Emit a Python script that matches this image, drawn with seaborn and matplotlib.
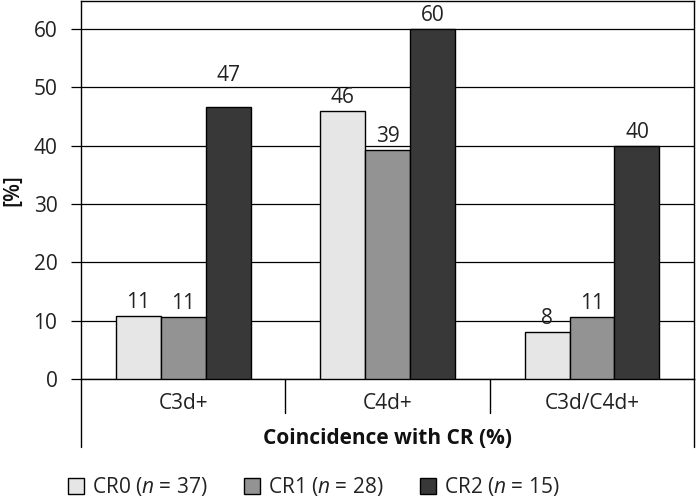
import matplotlib
matplotlib.use("Agg")
import matplotlib.pyplot as plt
import matplotlib.transforms as mtransforms
import seaborn as sns
import pandas as pd

categories = ["C3d+", "C4d+", "C3d/C4d+"]
groups = ["CR0 ($\\it{n}$ = 37)", "CR1 ($\\it{n}$ = 28)", "CR2 ($\\it{n}$ = 15)"]
cr0 = [10.8, 45.9, 8.1]
cr1 = [10.7, 39.3, 10.7]
cr2 = [46.7, 60.0, 40.0]
yticks = [0, 10, 20, 30, 40, 50, 60]

rows = []
for g, vals in zip(groups, [cr0, cr1, cr2]):
    for c, v in zip(categories, vals):
        rows.append({"category": c, "group": g, "value": v})
df = pd.DataFrame(rows)

sns.set_theme(style="white")
plt.rcParams["font.family"] = ["Open Sans", "DejaVu Sans"]
plt.rcParams["mathtext.fontset"] = "custom"
plt.rcParams["mathtext.rm"] = "Open Sans"
plt.rcParams["mathtext.it"] = "Open Sans:italic"

FS = 15
fig = plt.figure(figsize=(6.96, 5.04), dpi=100)
ax = fig.add_axes([0.1164, 0.248, 0.881, 0.750])

palette = ["#e6e6e6", "#939393", "#383838"]
sns.barplot(data=df, x="category", y="value", hue="group", palette=palette,
            edgecolor="black", linewidth=1.0, width=0.66, saturation=1,
            ax=ax, zorder=3)

ax.set_ylim(0, 64.8)
ax.set_xlim(-0.5, 2.5)
ax.set_yticks(yticks)
ax.yaxis.grid(True, color="black", linewidth=0.9, zorder=0)
ax.set_axisbelow(True)
for s in ax.spines.values():
    s.set_color("black")
    s.set_linewidth(1.0)
ax.tick_params(axis="y", which="both", left=True, length=7, width=0.9,
               color="black", labelsize=FS, pad=10, labelcolor="#222222")
ax.tick_params(axis="x", length=0, labelsize=FS, pad=10, labelcolor="#222222")

# value labels
for cont in ax.containers:
    labels = [f"{round(b.get_height()):d}" for b in cont]
    ax.bar_label(cont, labels=labels, padding=2, fontsize=FS, color="#222222")
# lift the label sitting under the 50 gridline
for t in ax.texts:
    if t.get_text() == "47":
        t.xy = (t.xy[0], 49.8)

# frame below axis
trans = mtransforms.blended_transform_factory(ax.transData, ax.transAxes)
for xv in [0.5, 1.5]:
    ax.plot([xv, xv], [0, -0.09], color="black", lw=1.0, transform=trans, clip_on=False)
for xv in [0, 1]:
    ax.plot([xv, xv], [0, -0.18], color="black", lw=1.0, transform=ax.transAxes, clip_on=False)

ax.set_xlabel("Coincidence with CR (%)", fontsize=FS, fontweight="bold", labelpad=10, color="#111111")
ax.set_ylabel("[%]", fontsize=FS, fontweight="semibold", color="#111111")
ax.yaxis.set_label_coords(-0.094, 0.5)

handles, labs = ax.get_legend_handles_labels()
ax.legend_.remove()
fig.legend(handles, labs, loc="center left", bbox_to_anchor=(0.098, 0.034), ncol=3,
           frameon=False, fontsize=FS, handlelength=0.75, handleheight=0.75,
           handletextpad=0.4, columnspacing=1.75, labelcolor="#222222",
           borderpad=0, borderaxespad=0)

fig.savefig("out.png", dpi=100)
